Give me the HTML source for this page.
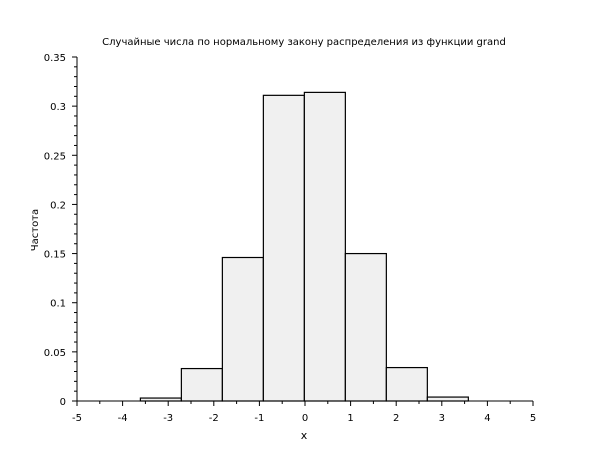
<!DOCTYPE html>
<html><head><meta charset="utf-8"><style>
body{margin:0;background:#fff}
svg{display:block;font-family:"DejaVu Sans","Liberation Sans",sans-serif}
</style></head><body>
<svg id="chart" width="610" height="460" viewBox="0 0 610 460">
<rect width="610" height="460" fill="#fff"/>
<text x="304" y="45" font-size="10" text-anchor="middle">Случайные числа по нормальному закону распределения из функции grand</text>
<text x="304" y="439" font-size="11" text-anchor="middle">x</text>
<text x="38" y="230" font-size="10" text-anchor="middle" transform="rotate(-90 38 230)">Частота</text>
<g id="bars"></g><g id="axes"></g>
</svg>
<script>
const binStart = -3.61;
const binWidth = 0.899;
const freqs = [0.003, 0.033, 0.146, 0.311, 0.314, 0.150, 0.034, 0.004];
const xTicks = [-5,-4,-3,-2,-1,0,1,2,3,4,5];
const yTicks = [0,0.05,0.1,0.15,0.2,0.25,0.3,0.35];
const yTickLabels = ["0","0.05","0.1","0.15","0.2","0.25","0.3","0.35"];
const NS="http://www.w3.org/2000/svg";
const X0=77,X1=533,Y0=401,Y1=57;
const xs=v=>X0+(v+5)/10*(X1-X0);
const ys=v=>Y0-v/0.35*(Y0-Y1);
function mk(t,a,p){const e=document.createElementNS(NS,t);for(const k in a)e.setAttribute(k,a[k]);p.appendChild(e);return e;}
const bars=document.getElementById('bars'),axes=document.getElementById('axes');
freqs.forEach((f,i)=>{
 const l=binStart+i*binWidth,r=l+binWidth;
 const b=mk('rect',{x:xs(l),y:ys(f),width:xs(r)-xs(l),height:ys(0)-ys(f),fill:'#f0f0f0',stroke:'#000','stroke-width':1.2},bars);
 
 
});
const xa=mk('line',{x1:X0,y1:Y0,x2:X1,y2:Y0,stroke:'#000'},axes);


const ya=mk('line',{x1:X0,y1:Y0,x2:X0,y2:Y1,stroke:'#000'},axes);


xTicks.forEach((v,i)=>{
 mk('line',{x1:xs(v),y1:Y0,x2:xs(v),y2:Y0+5,stroke:'#000'},axes);
 if(i<xTicks.length-1)mk('line',{x1:xs(v+0.5),y1:Y0,x2:xs(v+0.5),y2:Y0+3,stroke:'#000'},axes);
 const t=mk('text',{x:xs(v),y:Y0+20,'font-size':10,'text-anchor':'middle'},axes);
 t.textContent=String(v);
 
 
});
yTicks.forEach((v,i)=>{
 mk('line',{x1:X0-5,y1:ys(v),x2:X0,y2:ys(v),stroke:'#000'},axes);
 if(i<yTicks.length-1)for(let k=1;k<5;k++)mk('line',{x1:X0-3,y1:ys(v+k*0.01),x2:X0,y2:ys(v+k*0.01),stroke:'#000'},axes);
 const t=mk('text',{x:X0-11,y:ys(v)+4,'font-size':10,'text-anchor':'end'},axes);
 t.textContent=yTickLabels[i];
 
 
});
</script>
</body></html>
